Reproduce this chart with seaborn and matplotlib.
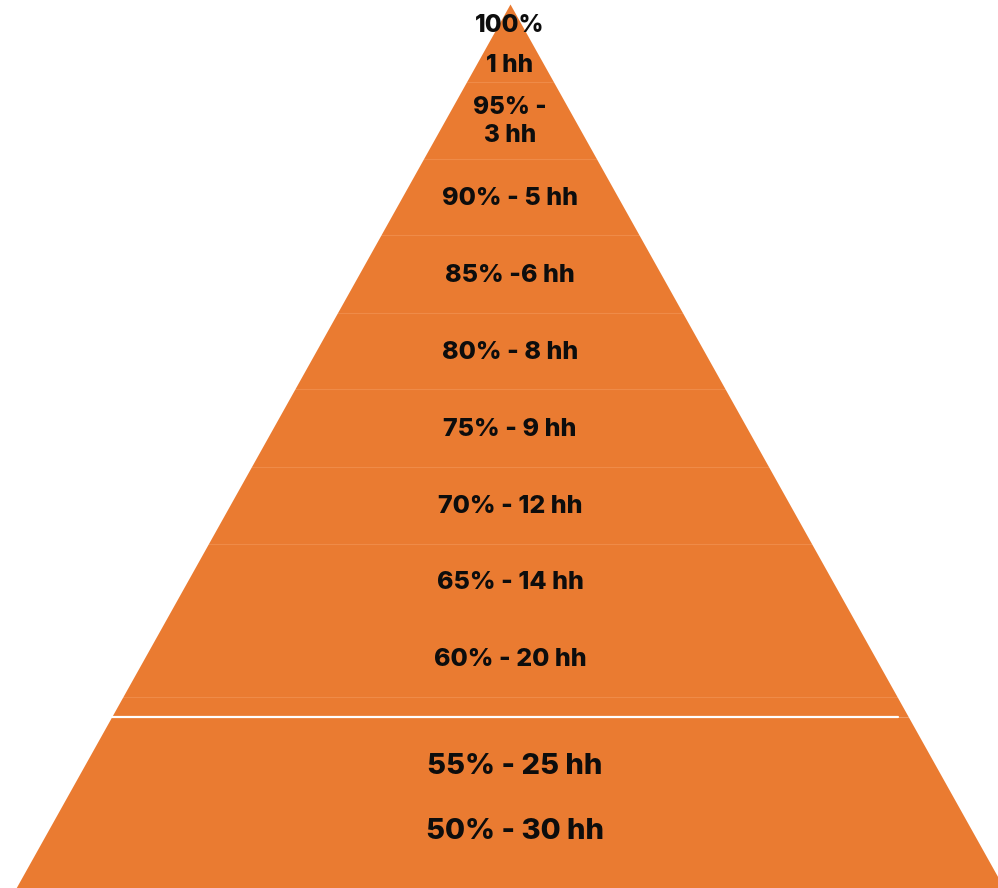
import matplotlib
matplotlib.use("Agg")
import matplotlib.pyplot as plt
import seaborn as sns
import numpy as np

sns.set_theme(style="white")
plt.rcParams['font.family'] = ['Inter', 'DejaVu Sans']

# Data
levels = ["100%", "1 hh", "95% -", "3 hh", "90% - 5 hh", "85% -6 hh", "80% - 8 hh",
          "75% - 9 hh", "70% - 12 hh", "65% - 14 hh", "60% - 20 hh",
          "55% - 25 hh", "50% - 30 hh"]
label_y = [25, 65, 107, 136, 198, 275, 352, 429, 506, 582, 659, 766, 831]
label_x = [510, 510, 510, 510, 510, 510, 510, 510, 510, 510, 510, 515, 515]
label_size = [17.5, 17.5, 17.5, 17.5, 18, 18, 18, 18, 18, 18, 18, 21, 21]

# Pyramid geometry (layout)
apex_x, apex_y = 510, 4
base_y, half_base = 888, 494
band_edges = [4, 82, 159, 235, 313, 389, 467, 544, 697, 717, 888]
orange = "#EA7B31"

fig = plt.figure(figsize=(9.98, 8.88), dpi=100)
ax = fig.add_axes([0, 0, 1, 1])
ax.set_xlim(0, 998)
ax.set_ylim(888, 0)
ax.axis("off")

slope = half_base / (base_y - apex_y)

def half_width(y):
    return slope * (np.asarray(y) - apex_y)

for y0, y1 in zip(band_edges[:-1], band_edges[1:]):
    ys = np.array([y0, y1])
    hw = half_width(ys)
    ax.fill_betweenx(ys, apex_x - hw, apex_x + hw, color=orange, lw=0)

# faint separators
for y in band_edges[1:-1]:
    hw = half_width(y)
    if y == 717:
        ax.plot([apex_x - hw, apex_x + hw - 10], [y, y], color="white", lw=1.6)
    else:
        ax.plot([apex_x - hw + 1, apex_x + hw - 1], [y, y], color="#EF8B48", lw=0.8)

for txt, x, y, fs in zip(levels, label_x, label_y, label_size):
    ax.text(x, y, txt, ha="center", va="center", fontsize=fs,
            fontweight="heavy", color="#0d0d0d")

fig.savefig("out.png", dpi=100)
